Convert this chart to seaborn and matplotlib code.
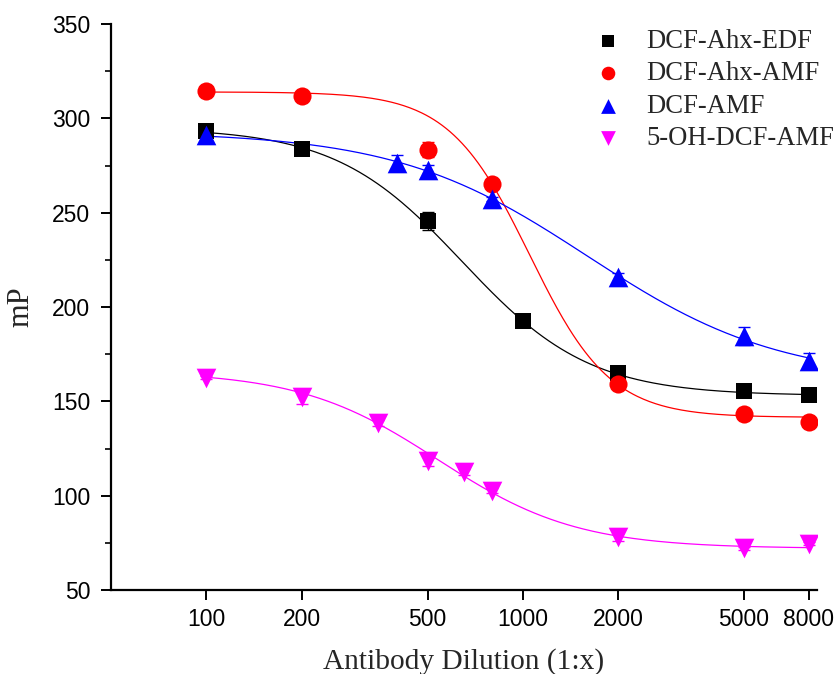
import numpy as np
import pandas as pd
import matplotlib
matplotlib.use("Agg")
import matplotlib.pyplot as plt
import seaborn as sns
from matplotlib.ticker import FixedLocator, MultipleLocator, NullLocator

# ---------------- data ----------------
series_names = ["DCF-Ahx-EDF", "DCF-Ahx-AMF", "DCF-AMF", "5-OH-DCF-AMF"]

edf_x = [100, 200, 500, 1000, 2000, 5000, 8000]
edf_y = [293.3, 283.8, 245.6, 192.6, 164.8, 155.5, 153.3]
edf_err = [3, 2, 5, 1, 3, 1.5, 1.5]

amf_x = [100, 200, 500, 800, 2000, 5000, 8000]
amf_y = [314.5, 312.0, 283.4, 265.0, 159.3, 143.2, 139.0]
amf_err = [1, 1, 4, 1.5, 1.5, 1, 1]

dcf_x = [100, 400, 500, 800, 2000, 5000, 8000]
dcf_y = [291.0, 276.5, 272.8, 257.2, 216.0, 184.6, 171.6]
dcf_err = [4, 4, 2.5, 1, 2, 5, 4]

oh_x = [100, 200, 350, 500, 650, 800, 2000, 5000, 8000]
oh_y = [162.6, 152.5, 138.4, 118.2, 112.4, 102.7, 78.2, 72.0, 74.6]
oh_err = [1, 4, 1.5, 2.5, 1.5, 1.5, 2, 1, 1]

# logistic fit parameters: A1 (top), A2 (bottom), x0, p
edf_fit = [295.0, 153.0, 644.0, 2.16]
amf_fit = [314.0, 141.5, 1050.0, 3.41]
dcf_fit = [293.0, 161.0, 1600.0, 1.43]
oh_fit = [166.0, 72.0, 540.0, 1.98]

xticks = [100, 200, 500, 1000, 2000, 5000, 8000]
yticks = [50, 100, 150, 200, 250, 300, 350]

colors = ["#000000", "#FF0000", "#0000FF", "#FF00FF"]
markers = ["s", "o", "^", "v"]
msizes = [130, 170, 200, 200]

# ---------------- plotting ----------------
sns.set_theme(style="ticks")
plt.rcParams["font.family"] = ["Liberation Sans", "DejaVu Sans"]

fig = plt.figure(figsize=(8.39, 6.74), dpi=100)
ax = fig.add_axes([111 / 839, 1 - 590 / 674, (817 - 111) / 839, (590 - 24) / 674])

datasets = [
    (edf_x, edf_y, edf_err, edf_fit),
    (amf_x, amf_y, amf_err, amf_fit),
    (dcf_x, dcf_y, dcf_err, dcf_fit),
    (oh_x, oh_y, oh_err, oh_fit),
]

xs = np.geomspace(100, 8000, 300)
for (x, y, e, fit), name, c in zip(datasets, series_names, colors):
    A1, A2, x0, p = fit
    yc = A2 + (A1 - A2) / (1 + (xs / x0) ** p)
    sns.lineplot(x=xs, y=yc, ax=ax, color=c, lw=0.9, legend=False, zorder=2)

for (x, y, e, fit), name, c, m, s in zip(datasets, series_names, colors, markers, msizes):
    ax.errorbar(x, y, yerr=e, fmt="none", ecolor=c, elinewidth=1.0,
                capsize=4.5, capthick=1.0, zorder=3)
    df = pd.DataFrame({"x": x, "y": y})
    sns.scatterplot(data=df, x="x", y="y", ax=ax, color=c, marker=m, s=s,
                    edgecolor=c, linewidth=0, label=name, zorder=4)

ax.set_xscale("log")
ax.set_xlim(50, 8500)
ax.set_ylim(50, 350)
ax.xaxis.set_major_locator(FixedLocator(xticks))
ax.xaxis.set_minor_locator(NullLocator())
ax.set_xticklabels([str(t) for t in xticks])
ax.yaxis.set_major_locator(FixedLocator(yticks))
ax.yaxis.set_minor_locator(MultipleLocator(25))

for sp in ["top", "right"]:
    ax.spines[sp].set_visible(False)
for sp in ["left", "bottom"]:
    ax.spines[sp].set_linewidth(1.6)
    ax.spines[sp].set_color("black")

ax.tick_params(axis="both", which="major", direction="out", length=7, width=1.4,
               labelsize=16.5, colors="black")
ax.tick_params(axis="y", which="major", pad=8)
ax.tick_params(axis="x", which="major", pad=6)
ax.tick_params(axis="y", which="minor", direction="out", length=4, width=1.4)

ax.set_xlabel("Antibody Dilution (1:x)", fontsize=21.2, family="Liberation Serif", labelpad=12)
ax.set_ylabel("mP", fontsize=22, family="Liberation Serif", labelpad=12)

leg = ax.legend(loc="upper right", bbox_to_anchor=(1.04, 1.01), frameon=False,
                prop={"family": "Liberation Serif", "size": 19.2},
                labelspacing=0.28, handletextpad=0.85, borderaxespad=0.0,
                handlelength=1.2, markerscale=0.75)

fig.savefig("out.png", dpi=100)
